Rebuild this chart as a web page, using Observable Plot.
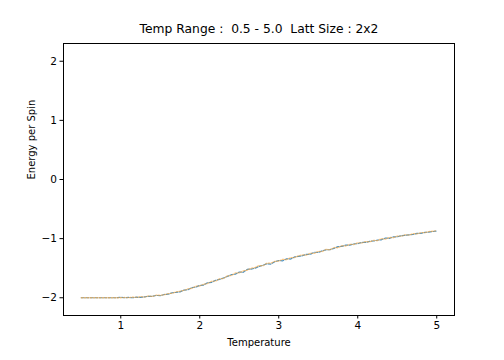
<!DOCTYPE html>
<html>
<head>
<meta charset="utf-8">
<script src="https://cdn.jsdelivr.net/npm/d3@7"></script>
<script src="https://cdn.jsdelivr.net/npm/@observablehq/plot@0.6"></script>
<style>
  html, body { margin: 0; padding: 0; background: #fff; }
  svg { font-family: "DejaVu Sans", sans-serif; }
</style>
</head>
<body>
<div id="chart"></div>
<script>
const title = "Temp Range :  0.5 - 5.0  Latt Size : 2x2";
const xLabel = "Temperature";
const yLabel = "Energy per Spin";
const xTicks = [1, 2, 3, 4, 5];
const yTicks = [-2, -1, 0, 1, 2];

const temps = [0.5, 0.55, 0.6, 0.65, 0.7, 0.75, 0.8, 0.85, 0.9, 0.95, 1.0, 1.05, 1.1, 1.15, 1.2, 1.25, 1.3, 1.35,
  1.4, 1.45, 1.5, 1.55, 1.6, 1.65, 1.7, 1.75, 1.8, 1.85, 1.9, 1.95, 2.0, 2.05, 2.1, 2.15, 2.2, 2.25, 2.3, 2.35,
  2.4, 2.45, 2.5, 2.55, 2.6, 2.65, 2.7, 2.75, 2.8, 2.85, 2.9, 2.95, 3.0, 3.05, 3.1, 3.15, 3.2, 3.25, 3.3, 3.35,
  3.4, 3.45, 3.5, 3.55, 3.6, 3.65, 3.7, 3.75, 3.8, 3.85, 3.9, 3.95, 4.0, 4.05, 4.1, 4.15, 4.2, 4.25, 4.3, 4.35,
  4.4, 4.45, 4.5, 4.55, 4.6, 4.65, 4.7, 4.75, 4.8, 4.85, 4.9, 4.95, 5.0];

const energyA = [-2.0, -2.0, -2.0, -2.0, -2.0, -2.0, -2.0, -2.0, -2.0, -2.0, -1.99, -2.0, -1.995, -2.0, -1.99, -1.995, -1.985, -1.975,
  -1.975, -1.96, -1.965, -1.945, -1.94, -1.915, -1.91, -1.9, -1.87, -1.865, -1.83, -1.82, -1.79, -1.785, -1.745, -1.74, -1.705, -1.69, -1.665, -1.64,
  -1.61, -1.6, -1.565, -1.57, -1.52, -1.515, -1.5, -1.47, -1.45, -1.425, -1.43, -1.39, -1.37, -1.375, -1.34, -1.345, -1.31, -1.3, -1.29, -1.265,
  -1.265, -1.23, -1.235, -1.205, -1.19, -1.185, -1.165, -1.135, -1.13, -1.11, -1.11, -1.09, -1.085, -1.065, -1.065, -1.045, -1.04, -1.025, -1.02, -0.99,
  -0.995, -0.97, -0.97, -0.95, -0.945, -0.935, -0.93, -0.91, -0.91, -0.895, -0.89, -0.88, -0.87];

const energyB = [-2.0, -2.0, -2.0, -2.0, -2.0, -2.0, -2.0, -2.0, -2.0, -2.0, -2.0, -1.995, -2.0, -1.99, -1.995, -1.98, -1.99, -1.97,
  -1.98, -1.955, -1.96, -1.95, -1.93, -1.925, -1.9, -1.89, -1.875, -1.85, -1.84, -1.805, -1.8, -1.77, -1.76, -1.72, -1.72, -1.68, -1.675, -1.63,
  -1.625, -1.58, -1.58, -1.545, -1.535, -1.5, -1.49, -1.455, -1.46, -1.415, -1.415, -1.385, -1.38, -1.35, -1.355, -1.32, -1.32, -1.29, -1.275, -1.28,
  -1.245, -1.25, -1.215, -1.22, -1.18, -1.19, -1.15, -1.155, -1.12, -1.125, -1.095, -1.1, -1.07, -1.075, -1.05, -1.055, -1.03, -1.035, -1.0, -1.01,
  -0.98, -0.985, -0.955, -0.96, -0.935, -0.94, -0.915, -0.92, -0.9, -0.9, -0.88, -0.875, -0.865];

const seriesA = temps.map((t, i) => ({t, e: energyA[i]}));
const seriesB = temps.map((t, i) => ({t, e: energyB[i]}));

const fmtY = d => d < 0 ? "\u2212" + Math.abs(d) : String(d);

const chart = Plot.plot({
  width: 504,
  height: 360,
  marginLeft: 63,
  marginRight: 50,
  marginTop: 43,
  marginBottom: 45,
  style: {fontFamily: "DejaVu Sans, sans-serif", fontSize: "10px", color: "#000", background: "#fff"},
  x: {domain: [0.275, 5.225], label: null},
  y: {domain: [-2.3, 2.3], label: null},
  marks: [
    Plot.line(seriesA, {x: "t", y: "e", stroke: "#1f77b4", strokeWidth: 1.2, strokeOpacity: 0.8, strokeDasharray: "3,1.5"}),
    Plot.line(seriesB, {x: "t", y: "e", stroke: "#ffa533", strokeWidth: 1.3, strokeOpacity: 0.6, strokeDasharray: "1.5,1.5"}),
    Plot.frame({stroke: "#000", strokeWidth: 1}),
    Plot.axisX({ticks: xTicks, tickSize: 3.5, tickPadding: 3, fontSize: 10.5, label: null, tickFormat: d => String(d)}),
    Plot.axisY({ticks: yTicks, tickSize: 3.5, tickPadding: 3, fontSize: 10.5, label: null, tickFormat: fmtY}),
    Plot.text([title], {frameAnchor: "top", dy: -11, fontSize: 12.3, lineAnchor: "bottom", text: d => d}),
    Plot.text([xLabel], {frameAnchor: "bottom", dy: 30, fontSize: 10, lineAnchor: "bottom", text: d => d}),
    Plot.text([yLabel], {frameAnchor: "left", dx: -32, rotate: -90, fontSize: 10, text: d => d})
  ]
});
document.getElementById("chart").appendChild(chart);
</script>
</body>
</html>
